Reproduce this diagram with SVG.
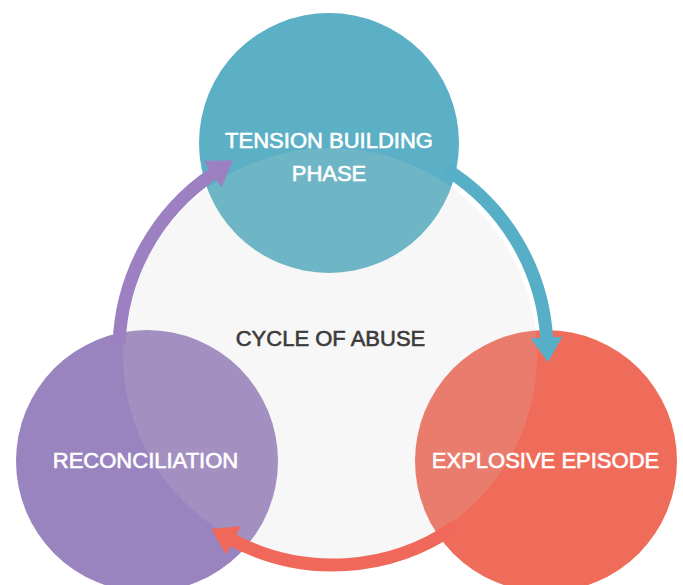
<svg xmlns="http://www.w3.org/2000/svg" width="683" height="585" viewBox="0 0 683 585">
  <style>
    .label { font-family: "Liberation Sans", Arial, sans-serif; font-size: 22px; text-anchor: middle; fill: #ffffff; stroke: #ffffff; stroke-width: 0.6; }
    .title { font-family: "Liberation Sans", Arial, sans-serif; font-size: 22px; text-anchor: middle; fill: #3b3b3b; stroke: #3b3b3b; stroke-width: 0.6; }
    .shaft { fill: none; stroke-width: 13; }
  </style>
  <defs>
    <marker id="head-teal" markerUnits="userSpaceOnUse" markerWidth="26" markerHeight="32" viewBox="0 0 26 32" refX="1" refY="16" orient="auto">
      <path d="M0,0 L25,16 L0,32 z" fill="#56aec7"/>
    </marker>
    <marker id="head-red" markerUnits="userSpaceOnUse" markerWidth="26" markerHeight="32" viewBox="0 0 26 32" refX="1" refY="16" orient="auto">
      <path d="M0,0 L25,16 L0,32 z" fill="#f0685a"/>
    </marker>
    <marker id="head-purple" markerUnits="userSpaceOnUse" markerWidth="26" markerHeight="32" viewBox="0 0 26 32" refX="1" refY="16" orient="auto">
      <path d="M0,0 L25,16 L0,32 z" fill="#9c80c2"/>
    </marker>
  </defs>

  <rect width="683" height="585" fill="#ffffff"/>

  <!-- phase nodes -->
  <g id="tension">
    <circle cx="329" cy="143" r="130" fill="#5bb0c5"/>
  </g>
  <g id="explosive">
    <circle cx="546" cy="461" r="131" fill="#f06c5a"/>
  </g>
  <g id="reconciliation">
    <circle cx="147" cy="461" r="131" fill="#9a84bf"/>
  </g>

  <!-- central translucent disc -->
  <g id="cycle">
    <circle cx="330" cy="355" r="207" fill="#d0d0d0" fill-opacity="0.17"/>
  </g>

  <!-- connectors -->
  <g id="connectors">
    <path class="shaft" stroke="#56aec7" d="M446.4,169.5 A214,214 0 0 1 546.6,338.3" marker-end="url(#head-teal)"/>
    <path class="shaft" stroke="#f0685a" d="M455.7,526.3 A214,214 0 0 1 232.5,540" marker-end="url(#head-red)"/>
    <path class="shaft" stroke="#9c80c2" d="M119.1,343.5 A214,214 0 0 1 213.3,173.6" marker-end="url(#head-purple)"/>
  </g>

  <!-- labels -->
  <g id="labels">
    <text class="label" x="329" y="148">TENSION BUILDING</text>
    <text class="label" x="329" y="181">PHASE</text>
    <text class="title" x="330.5" y="346">CYCLE OF ABUSE</text>
    <text class="label" x="145.5" y="468">RECONCILIATION</text>
    <text class="label" x="545.5" y="468">EXPLOSIVE EPISODE</text>
  </g>
</svg>
